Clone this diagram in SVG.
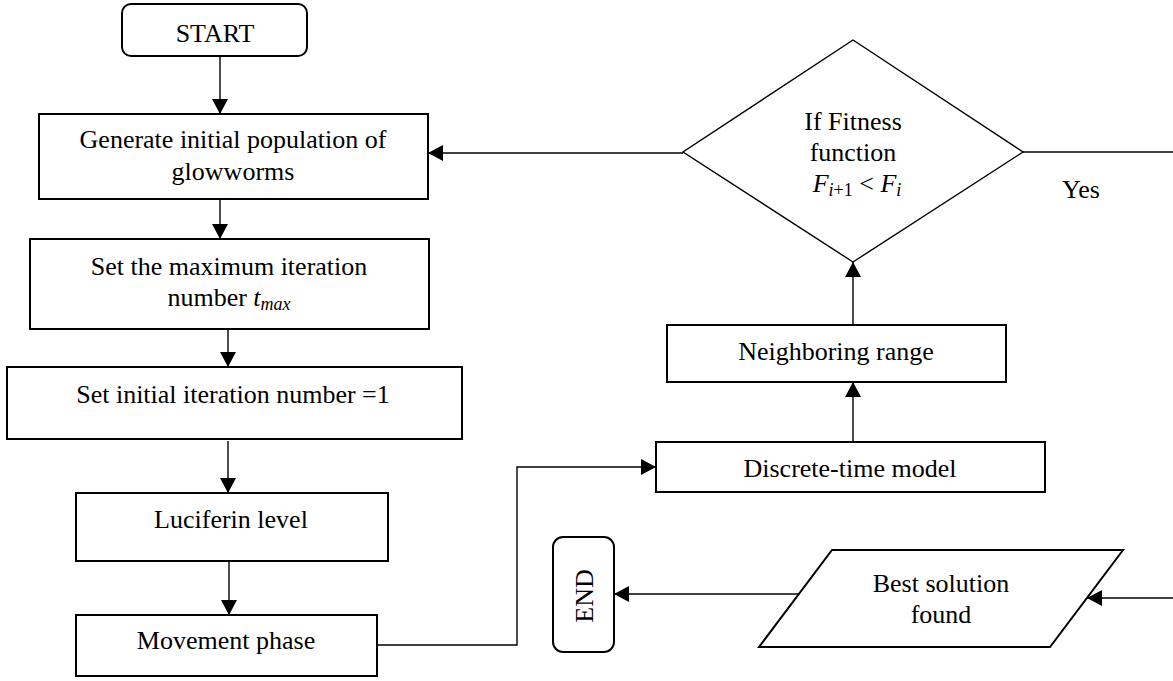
<svg xmlns="http://www.w3.org/2000/svg" width="1173" height="681" viewBox="0 0 1173 681">
<defs>
<style>
.box{fill:#fff;stroke:#000;stroke-width:2}
.dia{fill:#fff;stroke:#000;stroke-width:1.4}
.t{font-family:"Liberation Serif","Times New Roman",serif;font-size:26px;fill:#000;text-anchor:middle}
.c{fill:none;stroke:#000;stroke-width:1.4}
.ca{fill:none;stroke:#000;stroke-width:1.4;marker-end:url(#ah)}
</style>
<marker id="ah" markerUnits="userSpaceOnUse" viewBox="0 0 15 16" refX="15" refY="8" markerWidth="15" markerHeight="16" orient="auto">
<path d="M0,0 L15,8 L0,16 z" fill="#000"/>
</marker>
</defs>
<rect width="1173" height="681" fill="#fff"/>
<g id="connectors">
<line class="ca" x1="220" y1="56" x2="220" y2="114"/>
<line class="ca" x1="220" y1="199" x2="220" y2="239"/>
<line class="ca" x1="228" y1="329" x2="228" y2="367"/>
<line class="ca" x1="228" y1="441" x2="228" y2="493"/>
<line class="ca" x1="229" y1="561" x2="229" y2="615"/>
<polyline class="ca" points="377,645 517,645 517,467 656,467"/>
<line class="ca" x1="853" y1="442" x2="853" y2="382"/>
<line class="ca" x1="853" y1="325" x2="853" y2="262"/>
<line class="ca" x1="683" y1="153" x2="428" y2="153"/>
<line class="c" x1="1023" y1="152" x2="1173" y2="152"/>
<line class="ca" x1="1173" y1="598" x2="1087" y2="598"/>
<line class="ca" x1="799" y1="594" x2="614" y2="594"/>
<text class="t" x="1081" y="198">Yes</text>
</g>
<g id="start">
<rect class="box" x="122" y="4" width="185" height="52" rx="9"/>
<text class="t" x="215" y="42">START</text>
</g>
<g id="generate">
<rect class="box" x="39" y="114" width="389" height="85"/>
<text class="t" x="233" y="148">Generate initial population of</text>
<text class="t" x="233" y="180">glowworms</text>
</g>
<g id="setmax">
<rect class="box" x="30" y="239" width="399" height="90"/>
<text class="t" x="229" y="275">Set the maximum iteration</text>
<text class="t" x="229" y="306">number <tspan font-style="italic">t</tspan><tspan font-style="italic" font-size="18px" dy="4">max</tspan></text>
</g>
<g id="setinit">
<rect class="box" x="7" y="367" width="455" height="72"/>
<text class="t" x="233" y="403">Set initial iteration number =1</text>
</g>
<g id="luciferin">
<rect class="box" x="76" y="493" width="312" height="68"/>
<text class="t" x="231" y="528">Luciferin level</text>
</g>
<g id="movement">
<rect class="box" x="76" y="615" width="301" height="61"/>
<text class="t" x="226" y="649">Movement phase</text>
</g>
<g id="discrete">
<rect class="box" x="656" y="442" width="389" height="50"/>
<text class="t" x="850" y="477">Discrete-time model</text>
</g>
<g id="neighboring">
<rect class="box" x="667" y="325" width="339" height="57"/>
<text class="t" x="836" y="360">Neighboring range</text>
</g>
<g id="decision">
<polygon class="dia" points="853,40 1023,152 853,262 683,152"/>
<text class="t" x="853" y="130">If Fitness</text>
<text class="t" x="853" y="161">function</text>
<text class="t" x="857" y="192"><tspan font-style="italic">F</tspan><tspan font-size="18px" dy="4"><tspan font-style="italic">i</tspan>+1</tspan><tspan dy="-4"> &lt; </tspan><tspan font-style="italic">F</tspan><tspan font-style="italic" font-size="18px" dy="4">i</tspan></text>
</g>
<g id="best">
<polygon class="box" points="832,550 1123,550 1050,647 759,647"/>
<text class="t" x="941" y="592">Best solution</text>
<text class="t" x="941" y="623">found</text>
</g>
<g id="end">
<rect class="box" x="553" y="537" width="61" height="115" rx="10"/>
<text class="t" transform="translate(593,596) rotate(-90)" x="0" y="0">END</text>
</g>
</svg>
